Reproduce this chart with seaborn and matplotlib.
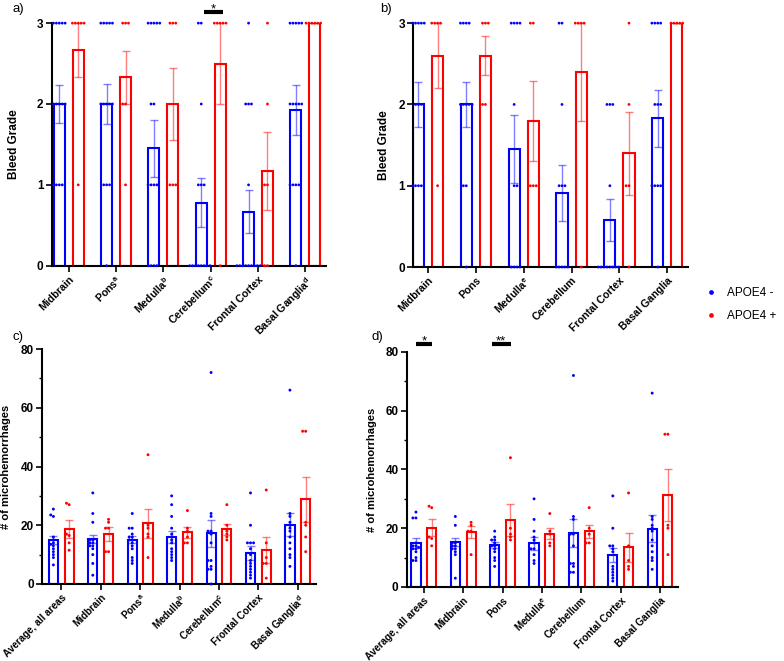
import numpy as np
import pandas as pd
import seaborn as sns
import warnings
warnings.filterwarnings('ignore')
import matplotlib.pyplot as plt

groups = ['APOE4 -', 'APOE4 +']
palette = {'APOE4 -': '#0000ff', 'APOE4 +': '#ff0000'}

# bleed grade panels (a, b)
regions_ab = ['Midbrain', 'Pons', 'Medulla', 'Cerebellum', 'Frontal Cortex', 'Basal Ganglia']
ticks_a = ['Midbrain', 'Pons$^{\\mathregular{a}}$', 'Medulla$^{\\mathregular{b}}$',
           'Cerebellum$^{\\mathregular{c}}$', 'Frontal Cortex', 'Basal Ganglia$^{\\mathregular{d}}$']
ticks_b = ['Midbrain', 'Pons', 'Medulla$^{\\mathregular{e}}$', 'Cerebellum', 'Frontal Cortex', 'Basal Ganglia']

a_neg_mean = [2.0, 2.0, 1.45, 0.78, 0.67, 1.93]
a_neg_sem = [0.24, 0.25, 0.35, 0.30, 0.27, 0.31]
a_pos_mean = [2.67, 2.33, 2.0, 2.5, 1.17, 3.0]
a_pos_sem = [0.33, 0.33, 0.45, 0.5, 0.48, 0.0]

a_neg_pts = [
    [3, 3, 3, 3, 3, 2, 2, 2, 2, 2, 1, 1, 1, 1],
    [3, 3, 3, 3, 3, 2, 2, 2, 2, 2, 1, 1, 1, 0],
    [3, 3, 3, 3, 3, 2, 2, 1, 1, 1, 1, 0, 0, 0, 0],
    [3, 3, 2, 1, 1, 1, 0, 0, 0, 0, 0, 0, 0, 0],
    [3, 2, 2, 2, 1, 0, 0, 0, 0, 0, 0, 0, 0, 0],
    [3, 3, 3, 3, 3, 2, 2, 2, 2, 2, 1, 1, 1, 1, 0],
]
a_pos_pts = [
    [3, 3, 3, 3, 3, 1],
    [3, 3, 3, 2, 2, 1],
    [3, 3, 3, 1, 1, 1],
    [3, 3, 3, 3, 3, 0],
    [3, 2, 1, 1, 0, 0],
    [3, 3, 3, 3, 3, 3],
]

b_neg_mean = [2.0, 2.0, 1.45, 0.91, 0.58, 1.83]
b_neg_sem = [0.28, 0.28, 0.42, 0.34, 0.26, 0.35]
b_pos_mean = [2.6, 2.6, 1.8, 2.4, 1.4, 3.0]
b_pos_sem = [0.4, 0.24, 0.49, 0.6, 0.51, 0.0]

b_neg_pts = [
    [3, 3, 3, 3, 3, 2, 2, 2, 1, 1, 1, 1],
    [3, 3, 3, 3, 2, 2, 2, 2, 2, 1, 1, 0],
    [3, 3, 3, 3, 2, 1, 1, 0, 0, 0, 0],
    [3, 3, 2, 1, 1, 1, 0, 0, 0, 0, 0],
    [2, 2, 2, 1, 0, 0, 0, 0, 0, 0, 0, 0],
    [3, 3, 3, 3, 2, 2, 2, 1, 1, 1, 1, 0],
]
b_pos_pts = [
    [3, 3, 3, 3, 1],
    [3, 3, 3, 2, 2],
    [3, 3, 1, 1, 1],
    [3, 3, 3, 3, 0],
    [3, 2, 1, 1, 0],
    [3, 3, 3, 3, 3],
]

# microhemorrhage count panels (c, d)
regions_cd = ['Average, all areas', 'Midbrain', 'Pons', 'Medulla', 'Cerebellum', 'Frontal Cortex', 'Basal Ganglia']
ticks_c = ['Average, all areas', 'Midbrain', 'Pons$^{\\mathregular{a}}$', 'Medulla$^{\\mathregular{b}}$',
           'Cerebellum$^{\\mathregular{c}}$', 'Frontal Cortex', 'Basal Ganglia$^{\\mathregular{d}}$']
ticks_d = ['Average, all areas', 'Midbrain', 'Pons', 'Medulla$^{\\mathregular{e}}$',
           'Cerebellum', 'Frontal Cortex', 'Basal Ganglia']

c_neg_mean = [15.0, 15.3, 15.0, 15.9, 17.2, 10.6, 20.2]
c_neg_sem = [1.4, 1.3, 1.2, 2.0, 4.6, 2.3, 3.8]
c_pos_mean = [18.8, 17.1, 20.7, 17.6, 18.6, 11.7, 28.8]
c_pos_sem = [3.0, 2.3, 5.0, 1.8, 1.9, 4.4, 7.6]

c_neg_pts = [
    [25.5, 23.5, 23, 16, 15, 14, 13.5, 13, 12, 11, 10, 9, 6.5],
    [31, 24, 21, 15, 15, 14, 14, 13, 13, 12, 10, 7, 3],
    [24, 19, 19, 17, 16, 16, 15, 15, 14, 13, 12, 9, 8, 7],
    [30, 27, 23, 19, 17, 16, 15, 14, 12, 11, 10, 9, 8],
    [72, 24, 23, 18, 18, 17, 14, 8, 8, 6, 5, 5, 0],
    [31, 20, 14, 14, 14, 12, 10, 8, 7, 6, 5, 4, 3, 2],
    [66, 24, 23, 21, 20, 19, 18, 16, 14, 12, 10, 9, 6],
]
c_pos_pts = [
    [27, 27.5, 17, 16.5, 14, 11.5],
    [22, 21, 19, 19, 11, 11],
    [44, 20, 19, 17, 16, 9],
    [25, 19, 18, 16, 14, 14],
    [27, 20, 18, 17, 16, 15],
    [32, 14, 9, 7, 7, 2],
    [52, 52, 21, 20, 16, 11],
]

d_neg_mean = [15.1, 15.3, 14.2, 14.8, 18.4, 10.8, 19.9]
d_neg_sem = [1.7, 1.3, 1.0, 2.2, 4.9, 2.3, 4.5]
d_pos_mean = [20.2, 18.7, 22.9, 18.2, 19.0, 13.5, 31.2]
d_pos_sem = [3.0, 2.0, 5.4, 1.9, 2.2, 5.0, 8.8]

d_neg_pts = [
    [25.5, 23.5, 23.5, 15, 14, 14, 13.5, 13, 13, 12, 10, 9, 9],
    [24, 21, 15, 15, 14, 14, 13, 13, 12, 11, 3],
    [19, 17, 16, 16, 15, 14, 14, 13, 12, 10, 9, 7],
    [30, 23, 19, 17, 16, 15, 13, 13, 11, 9, 8],
    [72, 24, 23, 18, 18, 14, 8, 8, 7, 5, 5],
    [31, 20, 14, 14, 13, 12, 7, 6, 5, 4, 3, 2],
    [66, 24, 23, 21, 20, 19, 16, 14, 12, 10, 9, 6],
]
d_pos_pts = [
    [27.5, 27, 17, 16.5, 14],
    [22, 21, 19, 19, 11],
    [44, 20, 18, 17, 16],
    [25, 19, 18, 15, 14],
    [27, 20, 18, 15, 15],
    [32, 14, 9, 7, 6],
    [52, 52, 21, 20, 11],
]

plt.rcParams['font.family'] = ['Liberation Sans', 'DejaVu Sans']
fig = plt.figure(figsize=(7.84, 6.61), dpi=100)


def panel(rect, cats, ticklabels, neg_mean, neg_sem, pos_mean, pos_sem, neg_pts, pos_pts,
          ylim, yticks, ylabel, xlim, dot, labelpad, ylab_size, xt_size, legend=False):
    ax = fig.add_axes(rect)
    bars = pd.DataFrame({'region': cats + cats,
                         'group': [groups[0]] * len(cats) + [groups[1]] * len(cats),
                         'mean': neg_mean + pos_mean,
                         'sem': neg_sem + pos_sem})
    sns.barplot(data=bars, x='region', y='mean', hue='group', order=cats, hue_order=groups,
                palette=palette, fill=False, width=0.8, gap=0.42, linewidth=1.5,
                errorbar=None, legend=False, ax=ax)
    for cont, g in zip(ax.containers, groups):
        sub = bars[bars['group'] == g]
        xs = [p.get_x() + p.get_width() / 2 for p in cont]
        ax.errorbar(xs, sub['mean'], yerr=sub['sem'], fmt='none', ecolor=palette[g],
                    alpha=0.5, elinewidth=1, capsize=2.8, capthick=1, zorder=3)
    rows = []
    for r, vals in zip(cats, neg_pts):
        rows += [(r, groups[0], v) for v in vals]
    for r, vals in zip(cats, pos_pts):
        rows += [(r, groups[1], v) for v in vals]
    pts = pd.DataFrame(rows, columns=['region', 'group', 'value'])
    sns.swarmplot(data=pts, x='region', y='value', hue='group', order=cats, hue_order=groups,
                  palette=palette, dodge=True, size=dot, ax=ax, legend=legend, zorder=4)
    for coll in ax.collections:
        coll.set_clip_on(False)
    ax.set_ylim(*ylim)
    ax.set_xlim(*xlim)
    ax.set_yticks(yticks)
    ax.set_xticks(range(len(cats)))
    ax.set_xticklabels(ticklabels, rotation=45, ha='right', rotation_mode='anchor',
                       fontsize=xt_size, fontweight='bold')
    for t in ax.get_yticklabels():
        t.set_fontweight('bold')
        t.set_fontsize(8.5)
    ax.set_xlabel('')
    ax.set_ylabel(ylabel, fontsize=ylab_size, fontweight='bold', labelpad=labelpad)
    for s in ['top', 'right']:
        ax.spines[s].set_visible(False)
    for s in ['left', 'bottom']:
        ax.spines[s].set_linewidth(1.5)
    ax.tick_params(axis='both', width=1.2, length=4, pad=2)
    return ax


ax_a = panel([0.066, 0.598, 0.350, 0.367], regions_ab, ticks_a, a_neg_mean, a_neg_sem,
             a_pos_mean, a_pos_sem, a_neg_pts, a_pos_pts, (0, 3), [0, 1, 2, 3], 'Bleed Grade',
             (-0.36, 5.44), 2.0, 12, 8.5, 7.6)
ax_b = panel([0.527, 0.596, 0.351, 0.369], regions_ab, ticks_b, b_neg_mean, b_neg_sem,
             b_pos_mean, b_pos_sem, b_neg_pts, b_pos_pts, (0, 3), [0, 1, 2, 3], 'Bleed Grade',
             (-0.31, 5.44), 2.0, 6, 8.5, 7.6, legend=True)
ax_c = panel([0.054, 0.1165, 0.349, 0.3555], regions_cd, ticks_c, c_neg_mean, c_neg_sem,
             c_pos_mean, c_pos_sem, c_neg_pts, c_pos_pts, (0, 80), [0, 20, 40, 60, 80],
             '# of microhemorrhages', (-0.48, 6.46), 2.1, 7, 8, 7.1)
ax_d = panel([0.519, 0.112, 0.346, 0.3555], regions_cd, ticks_d, d_neg_mean, d_neg_sem,
             d_pos_mean, d_pos_sem, d_neg_pts, d_pos_pts, (0, 80), [0, 20, 40, 60, 80],
             '# of microhemorrhages', (-0.43, 6.46), 2.1, 6, 8, 7.1)
for ax in (ax_c, ax_d):
    ax.set_yticks([10, 30, 50, 70], minor=True)
    ax.tick_params(axis='y', which='minor', length=2.5, width=1)

# legend taken from panel b points
handles, labels = ax_b.get_legend_handles_labels()
ax_b.get_legend().remove()
fig.legend(handles, labels, loc='center left', bbox_to_anchor=(0.899, 0.539), frameon=False,
           fontsize=8.5, handlelength=1.0, handletextpad=0.9, labelspacing=0.95,
           markerscale=1.7, borderpad=0, borderaxespad=0)

# significance markers
def sig(ax, x0, x1, y, text):
    ax.plot([x0, x1], [y, y], color='black', lw=3, transform=ax.get_xaxis_transform(),
            clip_on=False, solid_capstyle='butt')
    ax.text((x0 + x1) / 2, y, text, transform=ax.get_xaxis_transform(),
            ha='center', va='baseline', fontsize=9.5)

sig(ax_a, 3 - 0.15, 3 + 0.27, 1.045, '*')
sig(ax_d, 0 - 0.2, 0 + 0.22, 1.034, '*')
sig(ax_d, 2 - 0.28, 2 + 0.21, 1.034, '**')

fig.text(0.016, 0.995, 'a)', fontsize=9.5, va='top')
fig.text(0.485, 0.995, 'b)', fontsize=9.5, va='top')
fig.text(0.016, 0.499, 'c)', fontsize=9.5, va='top')
fig.text(0.474, 0.499, 'd)', fontsize=9.5, va='top')

fig.savefig('out.png', dpi=100)
